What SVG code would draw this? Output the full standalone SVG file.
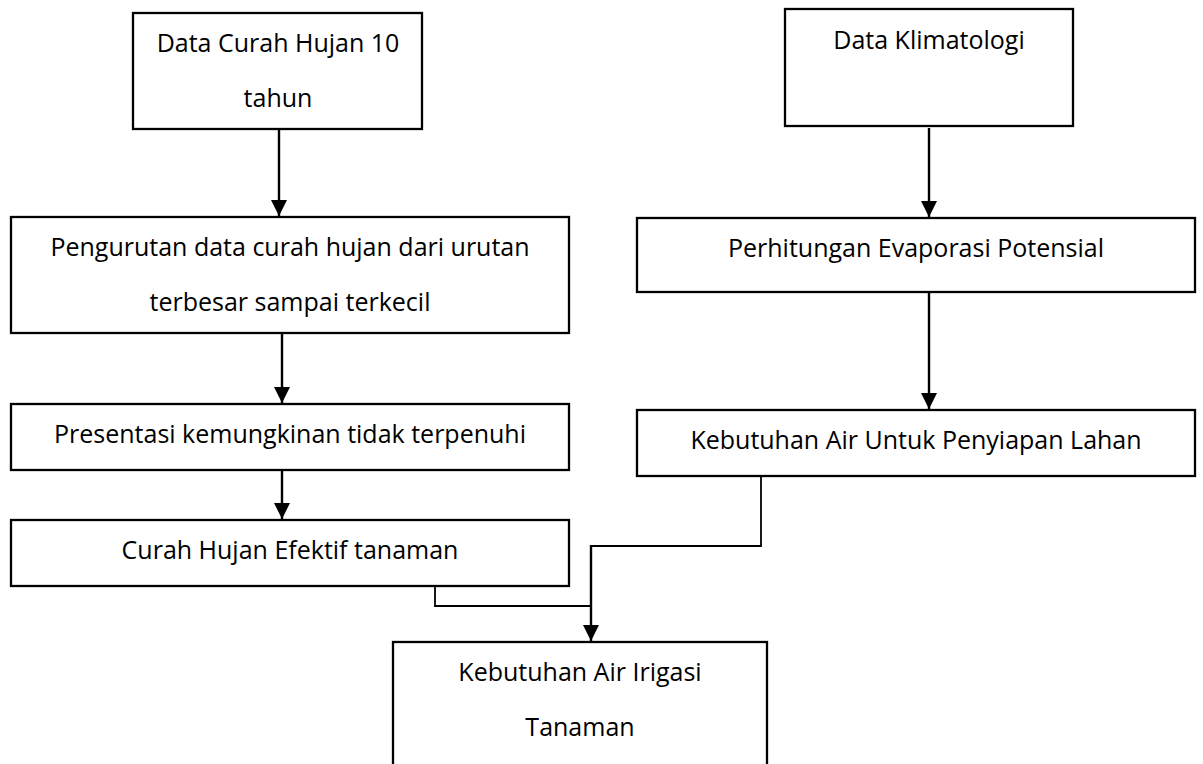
<svg xmlns="http://www.w3.org/2000/svg" width="1203" height="764" viewBox="0 0 1203 764">
<style>
.box{fill:#fff;stroke:#000;stroke-width:2.3}
.t{font-family:"Open Sans","Liberation Sans",sans-serif;font-size:25px;fill:#000;text-anchor:middle}
.arr{fill:none;stroke:#000;stroke-width:2.4}
.elb{fill:none;stroke:#000;stroke-width:1.8}
</style>
<defs>
<marker id="ahd" markerUnits="userSpaceOnUse" markerWidth="18" markerHeight="18" viewBox="0 0 18 18" refX="16" refY="9" orient="auto">
<path d="M0,1 L16,9 L0,17 Z" fill="#000"/>
</marker>
</defs>
<g id="connectors">
<line class="arr" x1="279" y1="129" x2="279" y2="216" marker-end="url(#ahd)"/>
<line class="arr" x1="929" y1="128" x2="929" y2="217" marker-end="url(#ahd)"/>
<line class="arr" x1="282" y1="333" x2="282" y2="403" marker-end="url(#ahd)"/>
<line class="arr" x1="282" y1="470" x2="282" y2="519" marker-end="url(#ahd)"/>
<line class="arr" x1="929" y1="292" x2="929" y2="409" marker-end="url(#ahd)"/>
<polyline class="elb" points="761,476 761,546 591,546"/>
<polyline class="elb" points="435,586 435,606 591,606"/>
<line class="arr" x1="591" y1="545" x2="591" y2="641" marker-end="url(#ahd)"/>
</g>
<g id="n1">
<rect class="box" x="133" y="13" width="289" height="116"/>
<text class="t" x="278" y="52">Data Curah Hujan 10</text>
<text class="t" x="278" y="107">tahun</text>
</g>
<g id="n2">
<rect class="box" x="785" y="9" width="288" height="117"/>
<text class="t" x="929" y="49">Data Klimatologi</text>
</g>
<g id="n3">
<rect class="box" x="11" y="217" width="558" height="116"/>
<text class="t" x="290" y="256">Pengurutan data curah hujan dari urutan</text>
<text class="t" x="290" y="311">terbesar sampai terkecil</text>
</g>
<g id="n4">
<rect class="box" x="637" y="218" width="558" height="74"/>
<text class="t" x="916" y="257">Perhitungan Evaporasi Potensial</text>
</g>
<g id="n5">
<rect class="box" x="11" y="404" width="558" height="66"/>
<text class="t" x="290" y="443">Presentasi kemungkinan tidak terpenuhi</text>
</g>
<g id="n6">
<rect class="box" x="637" y="410" width="558" height="66"/>
<text class="t" x="916" y="449">Kebutuhan Air Untuk Penyiapan Lahan</text>
</g>
<g id="n7">
<rect class="box" x="11" y="520" width="558" height="66"/>
<text class="t" x="290" y="559">Curah Hujan Efektif tanaman</text>
</g>
<g id="n8">
<rect class="box" x="393" y="642" width="374" height="140"/>
<text class="t" x="580" y="681">Kebutuhan Air Irigasi</text>
<text class="t" x="580" y="736">Tanaman</text>
</g>
</svg>
